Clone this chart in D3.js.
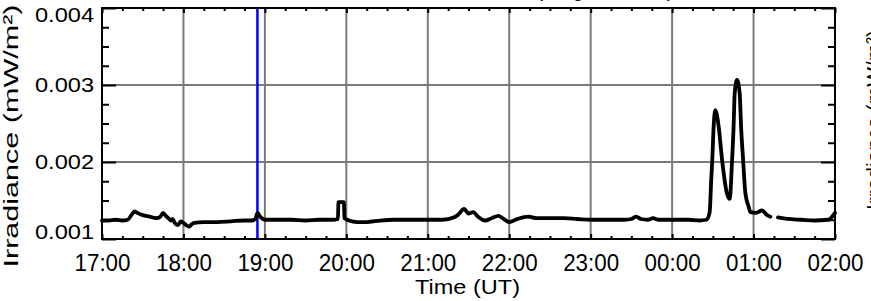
<!DOCTYPE html>
<html>
<head>
<meta charset="utf-8">
<script src="https://cdn.jsdelivr.net/npm/d3@7"></script>
<style>
  html, body { margin: 0; padding: 0; background: #fff; }
  svg { display: block; font-family: "Liberation Sans", Arial, Helvetica, sans-serif; }
</style>
</head>
<body>
<div id="chart"></div>
<script>
// minutes since 17:00 UT
const minutes = [
  0, 5, 10, 15, 19, 22, 24, 26, 30, 35, 40, 43, 45, 47, 49, 51, 52, 54, 56, 58,
  60, 62, 64, 66, 68, 75, 85, 95, 105, 110, 113, 114.5, 117, 120, 130, 140, 150,
  160, 170, 173.8, 174.2, 178.2, 178.6, 182, 188, 195, 205, 215, 225, 235, 245,
  251, 259, 262, 266.8, 270, 273.5, 277, 282.3, 287, 292, 296, 300, 306, 314,
  320, 330, 340, 350, 360, 372, 385, 390, 393.6, 397, 402, 406, 410, 420, 432,
  440, 445.2, 447.6, 448.9, 449.6, 450.6, 451.8, 454.3, 456.8, 460.4, 462.4,
  464.2, 465.3, 466.1, 467.8, 469.8, 470.8, 472.3, 474, 476.4, 477.6, 482,
  486.2, 490, 492.4, 495, 498, 505, 515, 525, 535, 540
];
const irradiance = [
  0.00124, 0.00124, 0.00125, 0.00124, 0.00125, 0.00132, 0.00136, 0.00134, 0.00131, 0.00129,
  0.00127, 0.00129, 0.00134, 0.00130, 0.00127, 0.00124, 0.00126, 0.00120, 0.00118, 0.00123,
  0.00121, 0.00118, 0.00116, 0.00119, 0.00121, 0.00122, 0.00122, 0.00123, 0.00124, 0.00124,
  0.00126, 0.00134, 0.00128, 0.00125, 0.00125, 0.00125, 0.00124, 0.00125, 0.00125, 0.00126,
  0.00148, 0.00148, 0.00127, 0.00124, 0.00122, 0.00122, 0.00124, 0.00125, 0.00125, 0.00125,
  0.00125, 0.00125, 0.00128, 0.00131, 0.00139, 0.00133, 0.00135, 0.00129, 0.00124, 0.00127,
  0.00130, 0.00126, 0.00122, 0.00126, 0.00129, 0.00127, 0.00127, 0.00127, 0.00126, 0.00125,
  0.00125, 0.00125, 0.00126, 0.00129, 0.00126, 0.00125, 0.00127, 0.00125, 0.00125, 0.00125,
  0.00124, 0.00125, 0.00134, 0.00180, 0.00203, 0.00246, 0.002675, 0.00246, 0.00203, 0.00159,
  0.00152, 0.00203, 0.00246, 0.00289, 0.003065, 0.00289, 0.00246, 0.00203, 0.00159, 0.00142,
  0.00135, 0.00134, 0.00137, 0.00131, 0.00129, null, 0.00128, 0.00126, 0.00125, 0.00124,
  0.00125, 0.00134
];
const hourLabels = ["17:00", "18:00", "19:00", "20:00", "21:00", "22:00", "23:00", "00:00", "01:00", "02:00"];
const yTicks = [0.001, 0.002, 0.003, 0.004];
const markerMinute = 114.5; // blue line near 18:55

class LightCurve {
  constructor(data) {
    this.data = data;
    this.initSvg();
    this.drawGrid();
    this.drawLine();
    this.drawAxes();
    this.drawLabels();
  }

  initSvg() {
    this.width = 871;
    this.height = 301;
    this.margin = { left: 102, right: 36, top: 8, bottom: 62 };
    this.innerW = this.width - this.margin.left - this.margin.right;
    this.innerH = this.height - this.margin.top - this.margin.bottom;

    this.svg = d3.select("#chart").append("svg")
      .attr("width", this.width)
      .attr("height", this.height);

    this.ChartArea = this.svg.append("g")
      .attr("transform", `translate(${this.margin.left},${this.margin.top})`);

    this.x = d3.scaleLinear().domain([0, 540]).range([0, this.innerW]);
    this.y = d3.scaleLinear().domain([0.001, 0.004]).range([this.innerH, 0]);
  }

  drawGrid() {
    const grid = this.ChartArea.append("g")
      .attr("stroke", "#7a7a7a")
      .attr("stroke-width", 2);
    grid.selectAll("line.v")
      .data(d3.range(60, 540, 60))
      .join("line")
      .attr("class", "v")
      .attr("x1", (d) => this.x(d)).attr("x2", (d) => this.x(d))
      .attr("y1", 0).attr("y2", this.innerH);
    grid.selectAll("line.h")
      .data(yTicks.slice(1, -1))
      .join("line")
      .attr("class", "h")
      .attr("x1", 0).attr("x2", this.innerW)
      .attr("y1", (d) => this.y(d)).attr("y2", (d) => this.y(d));

    this.ChartArea.append("line")
      .attr("x1", this.x(markerMinute)).attr("x2", this.x(markerMinute))
      .attr("y1", 0).attr("y2", this.innerH)
      .attr("stroke", "#0000ff")
      .attr("stroke-width", 2.5);
  }

  drawLine() {
    const line = d3.line()
      .defined((d) => d[1] !== null)
      .x((d) => this.x(d[0]))
      .y((d) => this.y(d[1]))
      .curve(d3.curveMonotoneX);
    this.ChartArea.append("path")
      .datum(this.data)
      .attr("d", line)
      .attr("fill", "none")
      .attr("stroke", "#000")
      .attr("stroke-width", 3.8)
      .attr("stroke-linejoin", "round")
      .attr("stroke-linecap", "round");
  }

  drawAxes() {
    const hours = d3.range(0, 541, 60);
    const quarters = d3.range(0, 541, 15).filter((d) => d % 60 !== 0);
    const yMinor = d3.range(0.001, 0.004, 0.00025).filter((d, i) => i % 4 !== 0);

    const style = (g) => {
      g.select(".domain").remove();
      g.selectAll(".tick line").attr("stroke", "#000").attr("stroke-width", 2);
    };

    // bottom
    const xAxis = this.ChartArea.append("g")
      .attr("transform", `translate(0,${this.innerH})`)
      .call(d3.axisBottom(this.x).tickValues(hours).tickSize(-5).tickPadding(15)
        .tickFormat((d, i) => hourLabels[i]))
      .call(style);
    xAxis.selectAll("text")
      .attr("font-size", 24)
      .attr("fill", "#000")
      .attr("textLength", 56)
      .attr("lengthAdjust", "spacingAndGlyphs");
    this.ChartArea.append("g")
      .attr("transform", `translate(0,${this.innerH})`)
      .call(d3.axisBottom(this.x).tickValues(quarters).tickSize(-3).tickFormat(""))
      .call(style);

    // top
    this.ChartArea.append("g")
      .call(d3.axisTop(this.x).tickValues(hours).tickSize(-5).tickFormat(""))
      .call(style);
    this.ChartArea.append("g")
      .call(d3.axisTop(this.x).tickValues(quarters).tickSize(-3).tickFormat(""))
      .call(style);

    // left; the end labels are pulled inside the frame
    const yAxis = this.ChartArea.append("g")
      .call(d3.axisLeft(this.y).tickValues(yTicks).tickSize(-14).tickPadding(8)
        .tickFormat(d3.format(".3f")))
      .call(style);
    yAxis.selectAll("text")
      .attr("font-size", 20)
      .attr("fill", "#000")
      .attr("textLength", 59)
      .attr("lengthAdjust", "spacingAndGlyphs")
      .attr("y", (d, i) => (i === 0 ? -6.5 : i === yTicks.length - 1 ? 7 : 0));
    this.ChartArea.append("g")
      .call(d3.axisLeft(this.y).tickValues(yMinor).tickSize(-7).tickFormat(""))
      .call(style);

    // right
    this.ChartArea.append("g")
      .attr("transform", `translate(${this.innerW},0)`)
      .call(d3.axisRight(this.y).tickValues(yTicks).tickSize(-14).tickFormat(""))
      .call(style);
    this.ChartArea.append("g")
      .attr("transform", `translate(${this.innerW},0)`)
      .call(d3.axisRight(this.y).tickValues(yMinor).tickSize(-7).tickFormat(""))
      .call(style);

    // frame
    this.ChartArea.append("rect")
      .attr("width", this.innerW)
      .attr("height", this.innerH)
      .attr("fill", "none")
      .attr("stroke", "#000")
      .attr("stroke-width", 2);
  }

  drawLabels() {
    this.svg.append("text")
      .attr("x", 467.5).attr("y", 294)
      .attr("text-anchor", "middle")
      .attr("font-size", 21)
      .attr("textLength", 105)
      .attr("lengthAdjust", "spacingAndGlyphs")
      .text("Time (UT)");

    this.svg.append("text")
      .attr("transform", "translate(18,136) rotate(-90)")
      .attr("text-anchor", "middle")
      .attr("font-size", 21)
      .attr("textLength", 263)
      .attr("lengthAdjust", "spacingAndGlyphs")
      .text("Irradiance (mW/m²)");

    // right-hand label and title, mostly cut off by the page edge
    this.svg.append("text")
      .attr("transform", "translate(881,120) rotate(-90)")
      .attr("text-anchor", "middle")
      .attr("font-size", 21)
      .attr("textLength", 180)
      .attr("lengthAdjust", "spacingAndGlyphs")
      .text("Irradiance (mW/m²)");
    this.svg.append("text")
      .attr("x", 536).attr("y", -4.5)
      .attr("font-size", 22)
      .attr("textLength", 138)
      .attr("lengthAdjust", "spacingAndGlyphs")
      .text("(long channel)");
  }
}

new LightCurve(minutes.map((m, i) => [m, irradiance[i]]));
</script>
</body>
</html>
